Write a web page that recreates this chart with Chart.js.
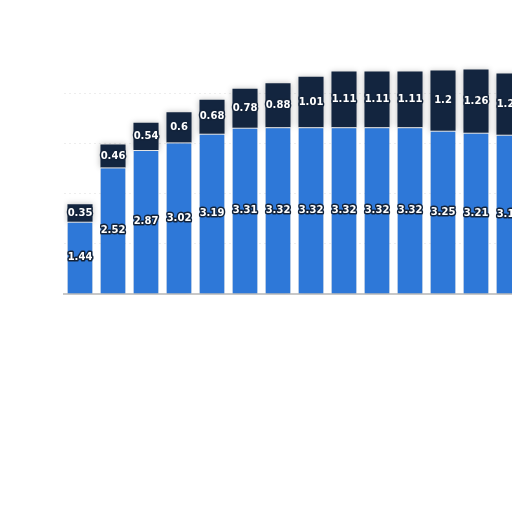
<!DOCTYPE html>
<html>
<head>
<meta charset="utf-8">
<script src="https://cdn.jsdelivr.net/npm/chart.js@4/dist/chart.umd.min.js"></script>
<style>
  html, body { margin: 0; padding: 0; background: #fff; overflow: hidden; }
  #wrap { position: absolute; left: 0; top: 0; width: 530px; height: 512px; }
</style>
</head>
<body>
<div id="wrap"><canvas id="stackChart" width="530" height="512"></canvas></div>
<script>
const categories = ['1', '2', '3', '4', '5', '6', '7', '8', '9', '10', '11', '12', '13', '14'];
const baseValues = [1.44, 2.52, 2.87, 3.02, 3.19, 3.31, 3.32, 3.32, 3.32, 3.32, 3.32, 3.25, 3.21, 3.17];
const topValues = [0.35, 0.46, 0.54, 0.6, 0.68, 0.78, 0.88, 1.01, 1.11, 1.11, 1.11, 1.2, 1.26, 1.22];

// soft halo behind the bars
const barShadow = {
  id: 'barShadow',
  beforeDatasetsDraw(chart) {
    const ctx = chart.ctx;
    ctx.save();
    ctx.shadowColor = 'rgba(0, 0, 0, 0.25)';
    ctx.shadowBlur = 6;
  },
  afterDatasetsDraw(chart) {
    chart.ctx.restore();
  }
};

// value labels centred in each segment
const centerLabels = {
  id: 'centerLabels',
  afterDatasetsDraw(chart) {
    const ctx = chart.ctx;
    ctx.save();
    ctx.font = 'bold 10px "DejaVu Sans", sans-serif';
    ctx.textAlign = 'center';
    ctx.textBaseline = 'middle';
    ctx.lineJoin = 'round';
    chart.data.datasets.forEach((ds, i) => {
      chart.getDatasetMeta(i).data.forEach((bar, j) => {
        const y = (bar.y + bar.base) / 2;
        const txt = String(ds.data[j]);
        ctx.lineWidth = 3;
        ctx.strokeStyle = '#13233a';
        ctx.strokeText(txt, bar.x, y);
        ctx.fillStyle = '#ffffff';
        ctx.fillText(txt, bar.x, y);
      });
    });
    ctx.restore();
  }
};

new Chart(document.getElementById('stackChart').getContext('2d'), {
  type: 'bar',
  data: {
    labels: categories,
    datasets: [{
      data: baseValues,
      backgroundColor: '#2e78d8',
      borderColor: '#ffffff',
      borderWidth: { top: 1 },
      borderSkipped: false,
      barPercentage: 0.76,
      categoryPercentage: 1
    }, {
      data: topValues,
      backgroundColor: '#13253f',
      borderWidth: 0,
      barPercentage: 0.76,
      categoryPercentage: 1
    }]
  },
  options: {
    responsive: false,
    animation: false,
    events: [],
    layout: { padding: { left: 63.5, right: 4.5, top: 43, bottom: 210 } },
    plugins: {
      legend: { display: false },
      tooltip: { enabled: false }
    },
    scales: {
      x: {
        stacked: true,
        grid: { display: false },
        ticks: { display: false },
        border: { display: true, color: '#c8c8c8', width: 2 }
      },
      y: {
        stacked: true,
        min: 0,
        max: 5,
        ticks: { display: false, stepSize: 1 },
        border: { display: false, dash: [2, 3] },
        grid: {
          color: (c) => (c.tick && c.tick.value > 0 && c.tick.value < 5) ? 'rgba(0, 0, 0, 0.07)' : 'rgba(0, 0, 0, 0)',
          drawTicks: false
        }
      }
    }
  },
  plugins: [barShadow, centerLabels]
});
</script>
</body>
</html>
